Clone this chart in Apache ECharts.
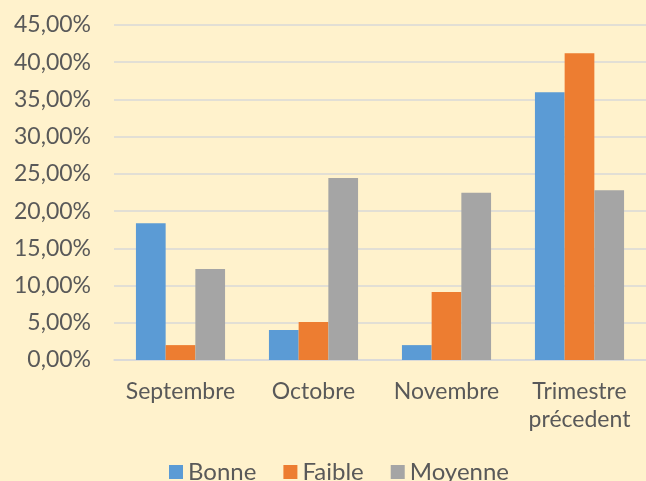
<!DOCTYPE html>
<html>
<head>
<meta charset="utf-8">
<script src="https://cdn.jsdelivr.net/npm/echarts@6/dist/echarts.min.js"></script>
<style>
  html, body { margin: 0; padding: 0; background: #FFF2CC; }
  #chart { width: 646px; height: 481px; }
</style>
</head>
<body>
<div id="chart"></div>
<script>
// categories and values (in %)
var mois = ['Septembre', 'Octobre', 'Novembre', 'Trimestre\nprécedent'];
var bonne = [18.37, 4.03, 2.0, 35.96];
var faible = [2.0, 5.1, 9.14, 41.2];
var moyenne = [12.23, 24.46, 22.45, 22.8];

var chart = echarts.init(document.getElementById('chart'));

//format 45,00%
function pct(v) {
    return v.toFixed(2).replace('.', ',') + '%';
}

var option = {
    backgroundColor: '#FFF2CC',
    textStyle: { fontFamily: 'Lato' },
    grid: { left: 114, right: 0, top: 25, bottom: 121, containLabel: false },
    legend: {
        top: 455,
        left: 164,
        itemWidth: 14,
        itemHeight: 14,
        itemGap: 27,
        icon: 'rect',
        textStyle: { color: '#595959', fontSize: 24, fontFamily: 'Lato' },
        data: ['Bonne', 'Faible', 'Moyenne']
    },
    xAxis: {
        type: 'category',
        data: mois,
        axisLine: { show: true, lineStyle: { color: '#D9D9D9', width: 1.5 } },
        axisTick: { show: false },
        axisLabel: { color: '#595959', fontSize: 23, margin: 18, lineHeight: 28, interval: 0 }
    },
    yAxis: {
        type: 'value',
        min: 0,
        max: 45,
        interval: 5,
        axisLine: { show: false },
        axisTick: { show: false },
        splitLine: { lineStyle: { color: '#D9D9D9', width: 1.5 } },
        axisLabel: { color: '#595959', fontSize: 23, margin: 23, formatter: pct }
    },
    series: [
        { name: 'Bonne', type: 'bar', data: bonne, barGap: '0%', barCategoryGap: '33%', itemStyle: { color: '#5B9BD5' } },
        { name: 'Faible', type: 'bar', data: faible, itemStyle: { color: '#ED7D31' } },
        { name: 'Moyenne', type: 'bar', data: moyenne, itemStyle: { color: '#A5A5A5' } }
    ]
};
chart.setOption(option);
</script>
</body>
</html>
